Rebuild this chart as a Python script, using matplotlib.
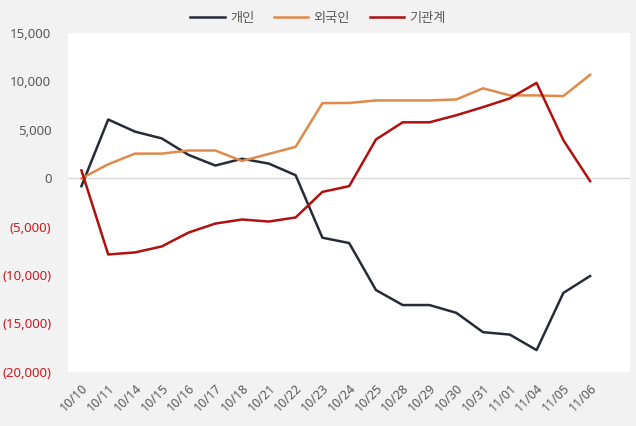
#!/usr/bin/env python3

import matplotlib
matplotlib.use('Agg')
import matplotlib.pyplot as plt
from matplotlib.ticker import FuncFormatter

plt.rcParams['font.family'] = ['Noto Sans CJK KR', 'DejaVu Sans']

dates = ['10/10', '10/11', '10/14', '10/15', '10/16', '10/17', '10/18', '10/21',
         '10/22', '10/23', '10/24', '10/25', '10/28', '10/29', '10/30', '10/31',
         '11/01', '11/04', '11/05', '11/06']

# 개인 (individuals)
individual = [-830, 6050, 4800, 4100, 2400, 1300, 2000, 1500, 300, -6150,
              -6700, -11550, -13100, -13100, -13900, -15900, -16150, -17750,
              -11850, -10100]
# 외국인 (foreigners)
foreign = [-30, 1430, 2530, 2530, 2850, 2850, 1770, 2500, 3230, 7740,
           7760, 8020, 8020, 8020, 8120, 9270, 8540, 8540, 8470, 10660]
# 기관계 (institutions)
institution = [800, -7880, -7670, -7050, -5620, -4690, -4270, -4480, -4060, -1420,
               -830, 3990, 5760, 5760, 6490, 7330, 8230, 9830, 3920, -310]

series = [('개인', individual, '#262b36'),
          ('외국인', foreign, '#e08a4a'),
          ('기관계', institution, '#b01010')]

fig = plt.figure(figsize=(6.36, 4.26), dpi=100, facecolor='#f2f2f2')
ax = fig.add_axes([0.107, 0.127, 0.884, 0.796])
ax.set_facecolor('white')

x = list(range(len(dates)))
ax.axhline(0, color='#d9d9d9', lw=1, zorder=1)
for name, vals, col in series:
    ax.plot(x, vals, color=col, lw=1.8, label=name, zorder=3)

ax.set_xlim(-0.5, 20.5)
ax.set_ylim(-20000, 15000)
ax.set_yticks(range(-20000, 15001, 5000))

def fmt(v, pos):
    if v < 0:
        return '({:,.0f})'.format(-v)
    return '{:,.0f}'.format(v)

ax.yaxis.set_major_formatter(FuncFormatter(fmt))
for lab, v in zip(ax.get_yticklabels(), ax.get_yticks()):
    lab.set_color('#d0191e' if v < 0 else '#595959')
    lab.set_family(['Noto Sans', 'DejaVu Sans'])
ax.tick_params(axis='y', length=0, labelsize=9.5, pad=12)

ax.set_xticks(x)
ax.set_xticklabels(dates, rotation=45, ha='right', va='top',
                   rotation_mode='anchor', color='#595959', fontsize=9,
                   family=['Noto Sans', 'DejaVu Sans'])
ax.tick_params(axis='x', length=0, pad=7)

for s in ax.spines.values():
    s.set_visible(False)

fig.legend(loc='upper center', bbox_to_anchor=(0.5, 1.0), ncol=3, frameon=False,
           fontsize=9.5, handlelength=2.6, columnspacing=1.5, handletextpad=0.4,
           labelcolor='#595959')

fig.savefig('out.png', dpi=100, facecolor=fig.get_facecolor())
